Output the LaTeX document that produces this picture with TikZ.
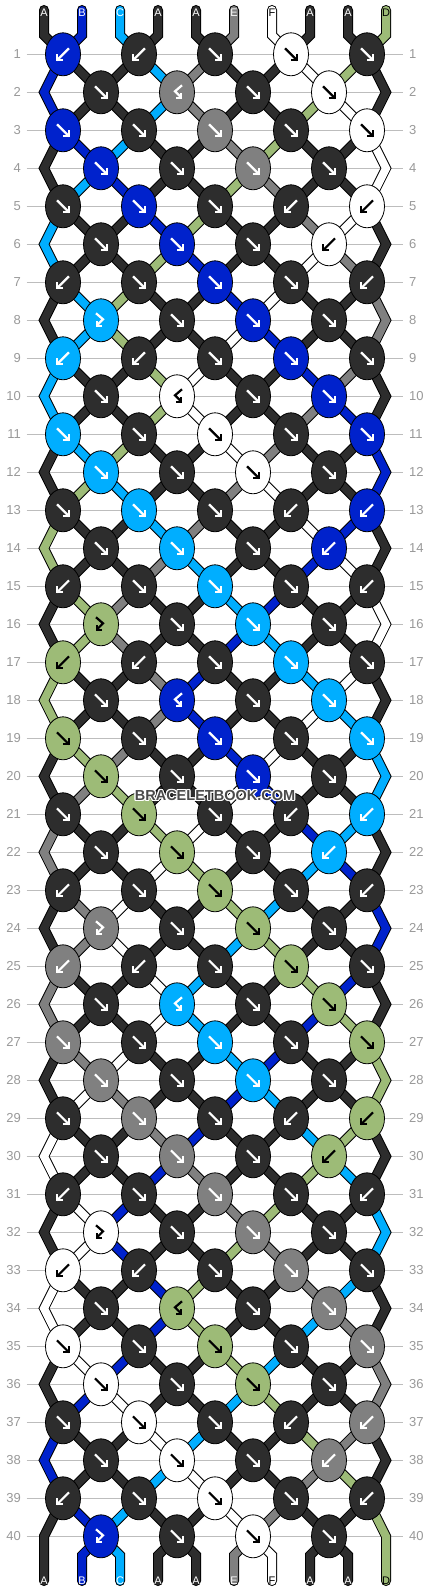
\documentclass[tikz,border=0pt]{standalone}
\usepackage{fontspec}
\setmainfont{Liberation Sans}
\usetikzlibrary{shapes.geometric}
\definecolor{cA}{HTML}{2D2D2D}
\definecolor{cB}{HTML}{0022CC}
\definecolor{cC}{HTML}{00AEFF}
\definecolor{cD}{HTML}{9DBB77}
\definecolor{cE}{HTML}{808080}
\definecolor{cF}{HTML}{FFFFFF}
\definecolor{gridc}{HTML}{BDBDBD}
\definecolor{numc}{HTML}{999999}
\definecolor{wmc}{HTML}{4A4A4A}

\newcommand\bbgetnode[2]{%
  \ifnum#1=0\relax \edef\bbnn{t-#2}%
  \else\ifnum#1=41\relax \edef\bbnn{b-#2}%
  \else\ifodd#1\relax
     \ifodd#2\relax \edef\bbnn{q-#1-\the\numexpr(#2+1)/2\relax}%
     \else \edef\bbnn{q-#1-\the\numexpr#2/2\relax}\fi
  \else
     \ifnum#2=1\relax \edef\bbnn{eL-#1}%
     \else\ifnum#2=10\relax \edef\bbnn{eR-#1}%
     \else\ifodd#2\relax \edef\bbnn{q-#1-\the\numexpr(#2-1)/2\relax}%
     \else \edef\bbnn{q-#1-\the\numexpr#2/2\relax}\fi\fi\fi
  \fi\fi\fi}
\newcommand\bbthread[2]{%
  \draw[line width=10pt,black,line cap=round,line join=miter] #2;%
  \draw[line width=8pt,color=#1,line cap=round,line join=miter] #2;}
\newcommand\bbswap{\expandafter\xdef\csname bbst\bbpl\endcsname{\bbcR}\expandafter\xdef\csname bbst\bbpr\endcsname{\bbcL}}
\expandafter\def\csname bbpat1\endcsname{B,B,F,F,F}
\expandafter\def\csname bbpat2\endcsname{F,X,F,F}
\expandafter\def\csname bbpat3\endcsname{F,F,F,F,F}
\expandafter\def\csname bbpat4\endcsname{F,F,F,F}
\expandafter\def\csname bbpat5\endcsname{F,F,F,B,B}
\expandafter\def\csname bbpat6\endcsname{F,F,F,B}
\expandafter\def\csname bbpat7\endcsname{B,F,F,F,B}
\expandafter\def\csname bbpat8\endcsname{Y,F,F,F}
\def\bbwhite{cF}\def\bbgreen{cD}
\newcommand\bbarrow[1]{%
  \if#1F\draw (-6,-6) -- (6,6); \draw (0,6) -- (6,6) -- (6,0);\fi
  \if#1B\draw (6,-6) -- (-6,6); \draw (0,6) -- (-6,6) -- (-6,0);\fi
  \if#1Y\draw (-5,-7) -- (2,-1) -- (-4,5); \draw (1,6) -- (-4,6) -- (-4,1);\fi
  \if#1X\draw (5,-7) -- (-2,-1) -- (4,5); \draw (-1,6) -- (4,6) -- (4,1);\fi}

\begin{document}
\begin{tikzpicture}[x=1pt,y=-1pt,
  knot/.style={ellipse,draw=black,line width=0.8pt,minimum width=35pt,minimum height=43pt,inner sep=0pt},
  rownum/.style={text=numc,inner sep=0pt,font=\fontsize{13}{13}\selectfont},
  strlab/.style={inner sep=0pt,font=\fontsize{11}{11}\selectfont},
  wmark/.style={inner sep=0pt,font=\bfseries\fontsize{14.5}{14.5}\selectfont}]
\useasboundingbox (0,0) rectangle (430,1592);
\fill[white] (0,0) rectangle (430,1592);
% knot positions, edge points, grid lines and row numbers
\foreach \bbr in {1,...,40}{%
  \pgfmathsetmacro\bby{16.3+38*\bbr}%
  \ifodd\bbr
    \foreach \bbk in {1,...,5}{\coordinate (q-\bbr-\bbk) at ({76*\bbk-13},\bby);}%
  \else
    \foreach \bbk in {1,...,4}{\coordinate (q-\bbr-\bbk) at ({76*\bbk+25},\bby);}%
    \coordinate (eL-\bbr) at (44,\bby);
    \coordinate (eR-\bbr) at (386,\bby);
  \fi
  \draw[gridc,line width=1pt] (26.7,\bby) -- (403,\bby);
  \node[rownum,anchor=east] (ln-\bbr) at (21,\bby) {\bbr};
  \node[rownum,anchor=west] (rn-\bbr) at (409,\bby) {\bbr};
}
% string ends
\foreach \bbc [count=\bbp] in {A,B,C,A,A,E,F,A,A,D}{%
  \coordinate (s-\bbp) at ({6+38*\bbp},10);
  \coordinate (t-\bbp) at ({6+38*\bbp},35.3);
  \coordinate (b-\bbp) at ({6+38*\bbp},1555.3);
  \coordinate (z-\bbp) at ({6+38*\bbp},1581);
  \expandafter\xdef\csname bbst\bbp\endcsname{c\bbc}%
}
% threads from the top
\foreach \bbp in {1,...,10}{%
  \bbgetnode{1}{\bbp}%
  \edef\bbcol{\csname bbst\bbp\endcsname}%
  \bbthread{\bbcol}{(s-\bbp) -- (t-\bbp) -- (\bbnn)}%
}
% rows: work out the knots, draw the threads below them
\foreach \bbr in {1,...,40}{%
  \pgfmathtruncatemacro\bbm{mod(\bbr-1,8)+1}%
  \edef\bbtypes{\csname bbpat\bbm\endcsname}%
  \foreach \bbkt [count=\bbk] in \bbtypes {%
    \ifodd\bbr \pgfmathtruncatemacro\bbpl{2*\bbk-1}\else \pgfmathtruncatemacro\bbpl{2*\bbk}\fi
    \pgfmathtruncatemacro\bbpr{\bbpl+1}%
    \edef\bbcL{\csname bbst\bbpl\endcsname}%
    \edef\bbcR{\csname bbst\bbpr\endcsname}%
    \if\bbkt F\let\bbkc\bbcL\bbswap\fi
    \if\bbkt B\let\bbkc\bbcR\bbswap\fi
    \if\bbkt Y\let\bbkc\bbcL\fi
    \if\bbkt X\let\bbkc\bbcR\fi
    \expandafter\xdef\csname bbkc-\bbr-\bbk\endcsname{\bbkc}%
    \expandafter\xdef\csname bbkt-\bbr-\bbk\endcsname{\bbkt}%
  }%
  \foreach \bbp in {1,...,10}{%
    \edef\bbcol{\csname bbst\bbp\endcsname}%
    \bbgetnode{\bbr}{\bbp}\let\bbA\bbnn
    \ifnum\bbp=1 \def\bbedge{1}\else\ifnum\bbp=10 \def\bbedge{1}\else\def\bbedge{0}\fi\fi
    \ifnum\bbr=40
      \ifnum\bbedge=0 \bbthread{\bbcol}{(\bbA) -- (b-\bbp) -- (z-\bbp)}\fi
    \else
      \pgfmathtruncatemacro\bbrn{\bbr+1}%
      \bbgetnode{\bbrn}{\bbp}\let\bbB\bbnn
      \ifnum\bbedge=0
        \bbthread{\bbcol}{(\bbA) -- (\bbB)}%
      \else
        \ifodd\bbr
          \ifnum\bbrn=40 \def\bbC{z-\bbp}\else
            \pgfmathtruncatemacro\bbrnn{\bbr+2}\bbgetnode{\bbrnn}{\bbp}\let\bbC\bbnn\fi
          \bbthread{\bbcol}{(\bbA) -- (\bbB) -- (\bbC)}%
        \fi
      \fi
    \fi
  }%
}
% knots
\foreach \bbr in {1,...,40}{%
  \ifodd\bbr \def\bbn{5}\else\def\bbn{4}\fi
  \foreach \bbk in {1,...,\bbn}{%
    \edef\bbkc{\csname bbkc-\bbr-\bbk\endcsname}%
    \edef\bbkt{\csname bbkt-\bbr-\bbk\endcsname}%
    \ifx\bbkc\bbwhite\def\bbac{black}\else\ifx\bbkc\bbgreen\def\bbac{black}\else\def\bbac{white}\fi\fi
    \node[knot,fill=\bbkc] (k-\bbr-\bbk) at (q-\bbr-\bbk) {};
    \begin{scope}[shift={(q-\bbr-\bbk)},line width=2.2pt,color=\bbac]
      \bbarrow{\bbkt}
    \end{scope}
  }%
}
% string labels
\foreach \bbc/\bbtc [count=\bbp] in {A/white,B/white,C/white,A/white,A/white,E/white,F/black,A/white,A/white,D/black}{%
  \node[strlab,text=\bbtc] (lt-\bbp) at ({6+38*\bbp},12.7) {\bbc};
  \node[strlab,text=\bbtc] (lb-\bbp) at ({6+38*\bbp},1580.7) {\bbc};
}
% watermark with a light halo
\foreach \bbdx/\bbdy [count=\bbi] in {-1.2/0,1.2/0,0/-1.2,0/1.2,-0.9/-0.9,0.9/-0.9,-0.9/0.9,0.9/0.9}{%
  \node[wmark,text=white] (wmh-\bbi) at (215+\bbdx,795.7+\bbdy) {BRACELETBOOK.COM};
}
\node[wmark,text=wmc] (wm) at (215,795.7) {BRACELETBOOK.COM};
\end{tikzpicture}
\end{document}
